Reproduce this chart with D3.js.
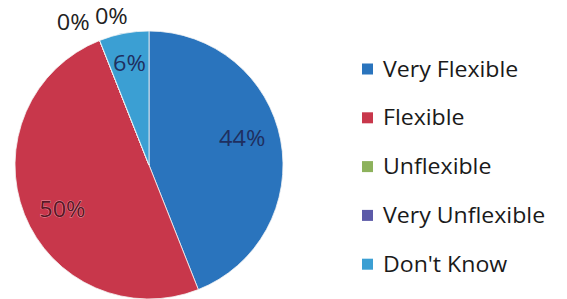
<!DOCTYPE html>
<html>
<head>
<meta charset="utf-8">
<script src="https://cdn.jsdelivr.net/npm/d3@7"></script>
<style>
  html, body { margin: 0; padding: 0; background: #fff; }
  svg text { font-family: "Open Sans", Lato, sans-serif; }
</style>
</head>
<body>
<svg id="chart"></svg>
<script>
// Chart data
const categories = ['Very Flexible', 'Flexible', 'Unflexible', 'Very Unflexible', "Don't Know"];
const values = [44, 50, 0, 0, 6];
const colors = ['#2a74bd', '#c8374b', '#8db25c', '#5c5aa8', '#3b9fd3'];
const labelColors = ['#1f2f60', '#5a1525', '#222', '#222', '#1f2f60'];

const width = 567, height = 299;
const cx = 149, cy = 165, radius = 134;

const svg = d3.select('#chart')
    .attr('width', width)
    .attr('height', height);

const data = categories.map((c, i) => ({ name: c, value: values[i], i: i }));

const pie = d3.pie()
    .sort(null)
    .value(d => d.value);

const arc = d3.arc()
    .innerRadius(0)
    .outerRadius(radius);

const arcs = pie(data);

const chart = svg.append('g')
    .attr('transform', `translate(${cx},${cy})`);

chart.selectAll('.slice')
    .data(arcs)
  .join('path')
    .attr('class', 'slice')
    .attr('d', arc)
    .attr('fill', d => colors[d.data.i])
    .attr('stroke', '#f4f4f4')
    .attr('stroke-width', 0.8);

// Data labels: inside for non-zero slices, pushed outside and fanned for empty ones
let zeroCount = 0;
const zeroTotal = arcs.filter(d => d.value === 0).length;

function labelPos(d) {
  if (d.value > 0) {
    let mid = (d.startAngle + d.endAngle) / 2;
    let r = 97;
    // best fit pulls wide-slice labels toward the slice start
    if (d.endAngle - d.startAngle > 1) mid -= 0.09;
    else r = 104;
    return [Math.sin(mid) * r, -Math.cos(mid) * r];
  }
  const k = zeroCount++ - (zeroTotal - 1) / 2;
  const a = d.startAngle + k * 0.24 + 0.01;
  const r = 158 - k * 8;
  return [Math.sin(a) * r, -Math.cos(a) * r];
}

chart.selectAll('.label')
    .data(arcs)
  .join('text')
    .attr('class', 'label')
    .attr('transform', d => `translate(${labelPos(d)}) scale(1.07,1)`)
    .attr('text-anchor', 'middle')
    .attr('dy', '0.36em')
    .attr('font-size', 22)
    .attr('fill', d => labelColors[d.data.i])
    .attr('stroke', d => d.data.i === 1 ? 'rgba(255,220,225,0.6)' : 'none')
    .attr('stroke-width', 0.8)
    .attr('paint-order', 'stroke')
    .text(d => d.value + '%');

// Legend
const legend = svg.append('g')
    .attr('transform', 'translate(362,69)');

const rowStep = 48.8;

const rows = legend.selectAll('.legend-row')
    .data(data)
  .join('g')
    .attr('class', 'legend-row')
    .attr('transform', (d, i) => `translate(0,${i * rowStep})`);

rows.append('rect')
    .attr('x', 0)
    .attr('y', -5.5)
    .attr('width', 11)
    .attr('height', 11)
    .attr('fill', d => colors[d.i]);

rows.append('text')
    .attr('transform', 'translate(21,0) scale(1.1,1)')
    .attr('dy', '0.36em')
    .attr('font-size', 21)
    .attr('fill', '#1a1a1a')
    .text(d => d.name);
</script>
</body>
</html>
